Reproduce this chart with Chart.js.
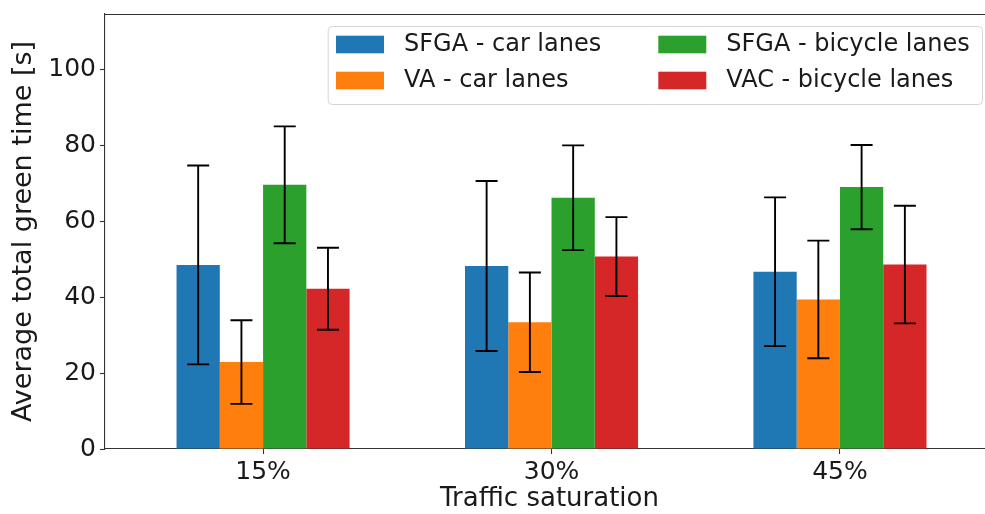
<!DOCTYPE html>
<html>
<head>
<meta charset="utf-8">
<script src="https://cdn.jsdelivr.net/npm/chart.js@4.4.0/dist/chart.umd.min.js"></script>
<style>
  html, body { margin: 0; padding: 0; background: #fff; overflow: hidden; }
  #chart { display: block; }
</style>
</head>
<body>
<canvas id="chart" width="995" height="514"></canvas>
<script>
var saturation = ['15%', '30%', '45%'];
var seriesNames = ['SFGA - car lanes', 'VA - car lanes', 'SFGA - bicycle lanes', 'VAC - bicycle lanes'];
var seriesColors = ['#1f77b4', '#ff7f0e', '#2ca02c', '#d62728'];

// mean green time per saturation level
var sfgaCar = [48.5, 48.2, 46.7];
var vaCar = [22.9, 33.4, 39.4];
var sfgaBike = [69.6, 66.2, 69.0];
var vacBike = [42.2, 50.7, 48.6];

// std deviation (error bars)
var sfgaCarErr = [26.2, 22.4, 19.6];
var vaCarErr = [11.0, 13.1, 15.5];
var sfgaBikeErr = [15.4, 13.8, 11.1];
var vacBikeErr = [10.8, 10.4, 15.5];

var yTicks = [0, 20, 40, 60, 80, 100];

var means = [sfgaCar, vaCar, sfgaBike, vacBike];
var errs = [sfgaCarErr, vaCarErr, sfgaBikeErr, vacBikeErr];

var FONT = 'DejaVu Sans';

var datasets = means.map(function (vals, k) {
    return {
        label: seriesNames[k],
        backgroundColor: seriesColors[k],
        borderWidth: 0,
        err: errs[k],
        data: vals.map(function (v, i) { return { x: i, y: v }; }),
    };
});

// error bars drawn through the y scale
var errorBars = {
    id: 'errorBars',
    afterDatasetsDraw: function (chart) {
        var ctx = chart.ctx;
        var y = chart.scales.y;
        ctx.save();
        ctx.strokeStyle = '#000';
        ctx.lineWidth = 1.9;
        chart.data.datasets.forEach(function (ds, k) {
            var meta = chart.getDatasetMeta(k);
            meta.data.forEach(function (bar, i) {
                var m = ds.data[i].y, e = ds.err[i];
                var top = y.getPixelForValue(m + e);
                var bot = y.getPixelForValue(m - e);
                var cap = 11;
                ctx.beginPath();
                ctx.moveTo(bar.x, top); ctx.lineTo(bar.x, bot);
                ctx.moveTo(bar.x - cap, top); ctx.lineTo(bar.x + cap, top);
                ctx.moveTo(bar.x - cap, bot); ctx.lineTo(bar.x + cap, bot);
                ctx.stroke();
            });
        });
        ctx.restore();
    }
};

// top/right spines + matplotlib-like legend box
var frameAndLegend = {
    id: 'frameAndLegend',
    afterDraw: function (chart) {
        var ctx = chart.ctx;
        var a = chart.chartArea;
        ctx.save();
        ctx.strokeStyle = '#333';
        ctx.lineWidth = 1.1;
        ctx.beginPath();
        ctx.moveTo(a.left, a.top + 0.5); ctx.lineTo(a.right, a.top + 0.5);
        ctx.lineTo(a.right, a.bottom);
        ctx.stroke();

        var bx = 327.7, by = a.top + 12, bw = a.right - 12 - bx, bh = 78;
        ctx.fillStyle = 'rgba(255,255,255,0.85)';
        ctx.strokeStyle = '#d5d5d5';
        ctx.lineWidth = 1;
        ctx.beginPath();
        ctx.roundRect(bx + 0.5, by + 0.5, bw, bh, 4);
        ctx.fill();
        ctx.stroke();

        ctx.font = '24px "' + FONT + '"';
        ctx.textBaseline = 'middle';
        ctx.textAlign = 'left';
        var colX = [bx + 8.3, bx + 330.6];
        var rowY = [by + 9.7, by + 45.7];
        chart.data.datasets.forEach(function (ds, k) {
            var c = Math.floor(k / 2), r = k % 2;
            ctx.fillStyle = ds.backgroundColor;
            ctx.fillRect(colX[c], rowY[r], 48, 17.6);
            ctx.fillStyle = '#1a1a1a';
            ctx.fillText(ds.label, colX[c] + 68, rowY[r] + 9.5);
        });
        ctx.restore();
    }
};

new Chart(document.getElementById('chart').getContext('2d'), {
    type: 'bar',
    data: { datasets: datasets },
    options: {
        responsive: false,
        animation: false,
        layout: { padding: { top: 14, right: 1, left: 0, bottom: 0 } },
        datasets: { bar: { categoryPercentage: 0.6, barPercentage: 1.0 } },
        plugins: { legend: { display: false }, tooltip: { enabled: false } },
        scales: {
            x: {
                type: 'linear',
                offset: false,
                min: -0.548,
                max: 2.534,
                afterBuildTicks: function (s) {
                    s.ticks = saturation.map(function (_, i) { return { value: i }; });
                },
                afterFit: function (s) {
                    s.height = 65;
                    s.paddingLeft = 0; s.paddingRight = 0;
                },
                ticks: {
                    callback: function (v) { return saturation[v]; },
                    color: '#1a1a1a',
                    font: { family: FONT, size: 25 },
                    padding: 3,
                    maxRotation: 0,
                },
                grid: {
                    display: true, offset: false, drawOnChartArea: false,
                    tickLength: 5, tickColor: '#333', tickWidth: 1.1, color: '#333',
                },
                border: { color: '#333', width: 1.1 },
                title: {
                    display: true, text: 'Traffic saturation', color: '#1a1a1a',
                    font: { family: FONT, size: 26, lineHeight: 1.1 }, padding: { top: 0, bottom: 0 },
                },
            },
            y: {
                min: 0,
                max: 114.6,
                afterBuildTicks: function (s) {
                    s.ticks = yTicks.map(function (v) { return { value: v }; });
                },
                afterFit: function (s) {
                    s.width = 105;
                    s.paddingTop = 0; s.paddingBottom = 0;
                },
                ticks: {
                    color: '#1a1a1a',
                    font: { family: FONT, size: 25 },
                    padding: 4,
                },
                grid: {
                    display: true, drawOnChartArea: false,
                    tickLength: 5, tickColor: '#333', tickWidth: 1.1, color: '#333',
                },
                border: { color: '#333', width: 1.1 },
                title: {
                    display: true, text: 'Average total green time [s]', color: '#1a1a1a',
                    font: { family: FONT, size: 27 }, padding: { top: 8, bottom: 0 },
                },
            },
        },
    },
    plugins: [errorBars, frameAndLegend],
});
</script>
</body>
</html>
